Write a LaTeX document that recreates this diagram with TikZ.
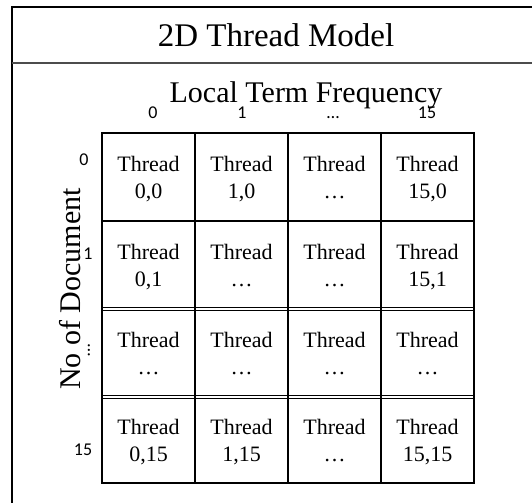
\documentclass[tikz,border=0pt]{standalone}
\usepackage{fontspec}
\setmainfont{Liberation Serif}
\newfontfamily\idxfont{Carlito}
\usetikzlibrary{positioning}

\begin{document}
\begin{tikzpicture}[x=1pt,y=-1pt,
    cell/.style={align=center,inner sep=0pt,font=\fontsize{22}{27}\selectfont},
    idx/.style={inner sep=0pt,font=\idxfont\fontsize{18}{22}\selectfont},
    gridline/.style={line width=2pt}]
  \useasboundingbox (0,0) rectangle (532,503);

  % Frame and title
  \draw[line width=2pt] (532,7) -- (12,7) -- (12,503);
  \draw[line width=1.8pt, black!70] (12,63) -- (532,63);
  \node[anchor=base, font=\fontsize{33}{40}\selectfont] (title) at (276,47) {2D Thread Model};

  % Axis captions
  \node[anchor=base, font=\fontsize{30}{36}\selectfont] (xcap) at (306,102) {Local Term Frequency};
  \node[anchor=base, rotate=90, font=\fontsize{30}{36}\selectfont] (ycap) at (80,289) {No of Document};

  % Column indices
  \foreach \x/\t [count=\i] in {153/0, 242/1, 333/…, 427/15}
    \node[idx, anchor=base] (col\i) at (\x,118) {\t};
  % Row indices
  \node[idx] (row1) at (84,160) {0};
  \node[idx] (row2) at (88,254) {1};
  \node[idx, rotate=90] (row3) at (89,350) {…};
  \node[idx] (row4) at (83,450) {15};

  % Grid
  \foreach \y in {309,397}
    \draw[double, double distance=2pt, line width=1pt] (102,\y) -- (474,\y);
  \draw[gridline] (102,133) rectangle (474,483);
  \draw[gridline] (102,221) -- (474,221);
  \foreach \x in {195,288,381}
    \draw[gridline] (\x,133) -- (\x,483);

  % Thread cells
  \foreach \c/\t in {0/{0,0}, 1/{1,0}, 2/…, 3/{15,0}}
    \node[cell] (t\c-0) at (148.5+93*\c,181) {Thread\\\t\strut};
  \foreach \c/\t in {0/{0,1}, 1/…, 2/…, 3/{15,1}}
    \node[cell] (t\c-1) at (148.5+93*\c,269) {Thread\\\t\strut};
  \foreach \c/\t in {0/…, 1/…, 2/…, 3/…}
    \node[cell] (t\c-2) at (148.5+93*\c,357) {Thread\\\t\strut};
  \foreach \c/\t in {0/{0,15}, 1/{1,15}, 2/…, 3/{15,15}}
    \node[cell] (t\c-3) at (148.5+93*\c,444) {Thread\\\t\strut};
\end{tikzpicture}
\end{document}
